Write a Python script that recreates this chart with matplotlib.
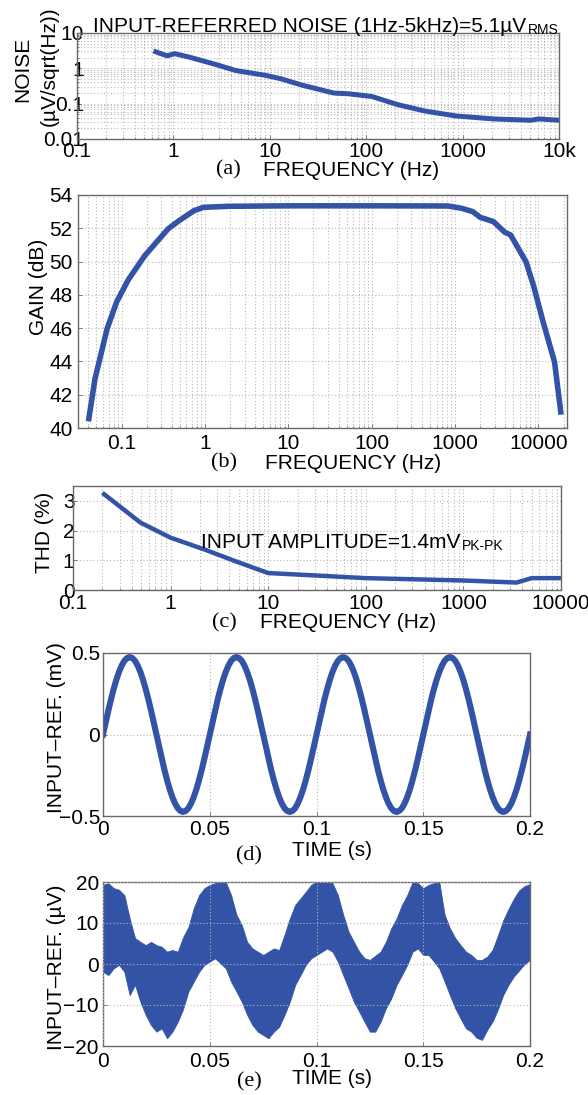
import numpy as np
import matplotlib.pyplot as plt
from matplotlib.ticker import NullFormatter, LogLocator

plt.rcParams["font.family"] = ["Liberation Sans", "DejaVu Sans"]
plt.rcParams["font.size"] = 15

W, H = 588, 1095
BLUE = "#3353a6"
GRID = "#b8b8b8"

# (a) input-referred noise spectrum
noise_freq = [0.62, 0.86, 1.03, 1.5, 3.0, 4.4, 9.1, 12.9, 22, 46, 66, 114,
              215, 405, 850, 2100, 5100, 6200, 10000]
noise_uv = [3.1, 2.26, 2.6, 2.04, 1.2, 0.87, 0.63, 0.51, 0.33, 0.2, 0.19,
            0.16, 0.093, 0.062, 0.045, 0.037, 0.034, 0.037, 0.034]

# (b) gain
gain_freq = [0.040, 0.048, 0.067, 0.087, 0.12, 0.19, 0.36, 0.49, 0.74, 0.96,
             1.9, 10, 100, 830, 1200, 1630, 2000, 2890, 3950, 4630, 7080,
             8720, 11400, 15600, 18700]
gain_db = [40.4, 42.96, 45.96, 47.56, 48.9, 50.36, 51.96, 52.46, 53.06, 53.26,
           53.32, 53.35, 53.35, 53.34, 53.2, 53.0, 52.66, 52.4, 51.76, 51.6,
           50.0, 48.56, 46.36, 43.96, 40.8]

# (c) THD
thd_freq = [0.2, 0.49, 1.0, 2.24, 4.6, 10, 20, 100, 1000, 3500, 5000, 10000]
thd_pct = [3.27, 2.27, 1.76, 1.36, 0.97, 0.57, 0.52, 0.40, 0.32, 0.25, 0.40, 0.40]

# (d) 20 Hz input-referred output (mV), sampled every 1.25 ms
t_d = np.linspace(0, 0.2, 161)
sig_d = [0.0, 0.074, 0.147, 0.216, 0.279, 0.336, 0.384, 0.423, 0.452, 0.469,
         0.475, 0.469, 0.452, 0.423, 0.384, 0.336, 0.279, 0.216, 0.147, 0.074,
         0.0, -0.074, -0.147, -0.216, -0.279, -0.336, -0.384, -0.423, -0.452, -0.469,
         -0.475, -0.469, -0.452, -0.423, -0.384, -0.336, -0.279, -0.216, -0.147, -0.074,
         0.0, 0.074, 0.147, 0.216, 0.279, 0.336, 0.384, 0.423, 0.452, 0.469,
         0.475, 0.469, 0.452, 0.423, 0.384, 0.336, 0.279, 0.216, 0.147, 0.074,
         0.0, -0.074, -0.147, -0.216, -0.279, -0.336, -0.384, -0.423, -0.452, -0.469,
         -0.475, -0.469, -0.452, -0.423, -0.384, -0.336, -0.279, -0.216, -0.147, -0.074,
         0.0, 0.074, 0.147, 0.216, 0.279, 0.336, 0.384, 0.423, 0.452, 0.469,
         0.475, 0.469, 0.452, 0.423, 0.384, 0.336, 0.279, 0.216, 0.147, 0.074,
         0.0, -0.074, -0.147, -0.216, -0.279, -0.336, -0.384, -0.423, -0.452, -0.469,
         -0.475, -0.469, -0.452, -0.423, -0.384, -0.336, -0.279, -0.216, -0.147, -0.074,
         0.0, 0.074, 0.147, 0.216, 0.279, 0.336, 0.384, 0.423, 0.452, 0.469,
         0.475, 0.469, 0.452, 0.423, 0.384, 0.336, 0.279, 0.216, 0.147, 0.074,
         0.0, -0.074, -0.147, -0.216, -0.279, -0.336, -0.384, -0.423, -0.452, -0.469,
         -0.475, -0.469, -0.452, -0.423, -0.384, -0.336, -0.279, -0.216, -0.147, -0.074,
         0.0]

# (e) small input (uV): upper / lower edge of the noisy trace every 2.5 ms
t_e = np.linspace(0, 0.2, 81)
upper_e = [19.3, 19.7, 18.5, 18.1, 16.8, 11.1, 6.3, 5.4, 4.6, 5.4,
           4.6, 4.2, 3.0, 3.4, 3.0, 6.5, 9.0, 13.6, 16.8, 18.5,
           19.3, 19.7, 20.0, 20.0, 16.8, 12.0, 9.5, 5.4, 3.8, 3.0,
           2.2, 3.0, 3.8, 3.4, 7.1, 11.1, 14.4, 16.0, 17.6, 19.3,
           20.0, 20.0, 20.0, 19.7, 16.8, 12.0, 7.9, 5.4, 3.0, 1.4,
           1.0, 2.0, 3.0, 5.4, 8.7, 11.1, 14.4, 16.8, 20.0, 19.7,
           18.5, 19.3, 19.7, 20.0, 12.0, 8.7, 6.3, 4.6, 3.0, 2.2,
           1.0, 1.0, 1.8, 3.5, 7.0, 10.7, 13.5, 16.0, 18.0, 19.0, 19.5]
lower_e = [-1.9, -2.7, -1.05, -0.2, -1.9, -7.6, -5.1, -9.2, -12.4, -14.9,
           -16.5, -15.7, -18.1, -16.5, -14.1, -11.0, -6.7, -4.3, -1.9, -0.2,
           0.6, 1.4, 0.2, -1.05, -4.3, -6.7, -9.2, -12.4, -14.9, -16.5,
           -17.3, -18.1, -16.5, -15.3, -12.4, -9.2, -5.1, -2.7, -0.2, 1.4,
           2.2, 3.0, 3.8, 3.0, 0.6, -2.7, -5.9, -9.2, -11.6, -14.1,
           -16.5, -16.5, -14.1, -10.8, -8.4, -5.1, -2.7, -0.2, 3.0, 3.8,
           2.2, 2.2, 0.6, -1.05, -4.3, -7.6, -10.8, -13.3, -15.7, -16.5,
           -18.0, -18.5, -16.0, -14.0, -11.0, -7.5, -5.0, -3.0, -1.5, 0.0, 1.0]

fig = plt.figure(figsize=(W / 100, H / 100), dpi=100)


def box(l, t, r, b):
    return fig.add_axes([l / W, 1 - b / H, (r - l) / W, (b - t) / H])


def ftext(x, y, s, **kw):
    kw.setdefault("ha", "center")
    kw.setdefault("va", "center")
    return fig.text(x / W, 1 - y / H, s, **kw)


def style(ax, minor_x=False, minor_y=False, xpad=3, ypad=3):
    for sp in ax.spines.values():
        sp.set_color("#6a6a6a")
        sp.set_linewidth(1.0)
    ax.tick_params(which="both", direction="in", colors="#6a6a6a",
                   labelcolor="black", labelsize=15, width=0.6)
    ax.tick_params(which="major", length=3)
    ax.tick_params(which="minor", length=1.5)
    ax.tick_params(axis="x", pad=xpad)
    ax.tick_params(axis="y", pad=ypad)
    ax.set_axisbelow(True)
    ax.grid(True, which="major", color=GRID, linestyle=(0, (1, 2)), linewidth=0.8)
    if minor_x:
        ax.grid(True, which="minor", axis="x", color=GRID, linestyle=(0, (1, 2)), linewidth=0.8)
    if minor_y:
        ax.grid(True, which="minor", axis="y", color=GRID, linestyle=(0, (1, 2)), linewidth=0.8)


freq_ticks = [0.1, 1, 10, 100, 1000, 10000]

# ---- (a)
ax = box(77, 33, 559, 139)
ax.plot(noise_freq, noise_uv, color=BLUE, lw=3.6, solid_capstyle="butt")
ax.set_xscale("log")
ax.set_yscale("log")
ax.set_xlim(0.1, 10000)
ax.set_ylim(0.01, 10)
ax.set_xticks(freq_ticks, ["0.1", "1", "10", "100", "1000", "10k"])
ax.set_yticks([0.01, 0.1, 1, 10], ["0.01", "0.1", "1", "10"])
ax.xaxis.set_minor_locator(LogLocator(subs=np.arange(2, 10)))
ax.yaxis.set_minor_locator(LogLocator(subs=np.arange(2, 10)))
ax.xaxis.set_minor_formatter(NullFormatter())
ax.yaxis.set_minor_formatter(NullFormatter())
style(ax, True, True, xpad=2, ypad=-5)
t = ftext(93, 32, "INPUT-REFERRED NOISE (1Hz-5kHz)=5.1\u00b5V", ha="left", va="baseline")
ax.annotate("RMS", xy=(1, 0), xycoords=t, xytext=(1, -1), textcoords="offset points",
            ha="left", va="bottom", fontsize=10)
ftext(23, 69, "NOISE", rotation=90)
ftext(49, 66, "(\u00b5V/sqrt(Hz))", rotation=90)
ftext(228, 170, "(a)", family=["Liberation Serif"], fontsize=16)
ftext(351, 170, "FREQUENCY (Hz)")

# ---- (b)
ax = box(78, 195, 567, 428)
ax.plot(gain_freq, gain_db, color=BLUE, lw=4.0, solid_capstyle="butt")
ax.set_xscale("log")
ax.set_xlim(0.03, 22000)
ax.set_ylim(40, 54)
ax.set_xticks(freq_ticks, ["0.1", "1", "10", "100", "1000", "10000"])
ax.set_yticks(range(40, 55, 2))
ax.xaxis.set_minor_locator(LogLocator(subs=np.arange(2, 10)))
ax.xaxis.set_minor_formatter(NullFormatter())
style(ax, True, False, xpad=4, ypad=4)
ftext(38, 287, "GAIN (dB)", rotation=90)
ftext(224, 463, "(b)", family=["Liberation Serif"], fontsize=16)
ftext(353, 463, "FREQUENCY (Hz)")

# ---- (c)
ax = box(73, 486, 561, 590)
ax.plot(thd_freq, thd_pct, color=BLUE, lw=3.2, solid_capstyle="butt")
ax.set_xscale("log")
ax.set_xlim(0.1, 10000)
ax.set_ylim(0, 3.5)
ax.set_xticks(freq_ticks, ["0.1", "1", "10", "100", "1000", "10000"])
ax.set_yticks([0, 1, 2, 3])
ax.xaxis.set_minor_locator(LogLocator(subs=np.arange(2, 10)))
ax.xaxis.set_minor_formatter(NullFormatter())
style(ax, True, False, xpad=3, ypad=-1)
t = ftext(201, 548, "INPUT AMPLITUDE=1.4mV", ha="left", va="baseline")
ax.annotate("PK-PK", xy=(1, 0), xycoords=t, xytext=(1, -1), textcoords="offset points",
            ha="left", va="bottom", fontsize=10)
ftext(44, 532, "THD (%)", rotation=90)
ftext(224, 623, "(c)", family=["Liberation Serif"], fontsize=16)
ftext(348, 623, "FREQUENCY (Hz)")

# ---- (d)
ax = box(103, 653, 530, 816)
ax.plot(t_d, sig_d, color=BLUE, lw=4.4)
ax.set_xlim(0, 0.2)
ax.set_ylim(-0.5, 0.5)
ax.set_xticks([0, 0.05, 0.1, 0.15, 0.2], ["0", "0.05", "0.1", "0.15", "0.2"])
ax.set_yticks([-0.5, 0, 0.5], ["\u22120.5", "0", "0.5"])
style(ax, xpad=3, ypad=2)
ftext(57, 728, "INPUT\u2013REF. (mV)", rotation=90)
ftext(249, 856, "(d)", family=["Liberation Serif"], fontsize=16)
ftext(332, 851, "TIME (s)")

# ---- (e)
ax = box(103, 882, 530, 1046)
ax.fill_between(t_e, lower_e, upper_e, color=BLUE, lw=0.6)
ax.set_xlim(0, 0.2)
ax.set_ylim(-20, 20)
ax.set_xticks([0, 0.05, 0.1, 0.15, 0.2], ["0", "0.05", "0.1", "0.15", "0.2"])
ax.set_yticks([-20, -10, 0, 10, 20], ["\u221220", "\u221210", "0", "10", "20"])
style(ax, xpad=4, ypad=3)
ax.set_axisbelow(False)
ftext(57, 967, "INPUT\u2013REF. (\u00b5V)", rotation=90)
ftext(249, 1082, "(e)", family=["Liberation Serif"], fontsize=16)
ftext(332, 1078, "TIME (s)")

fig.savefig("out.png", dpi=100)
